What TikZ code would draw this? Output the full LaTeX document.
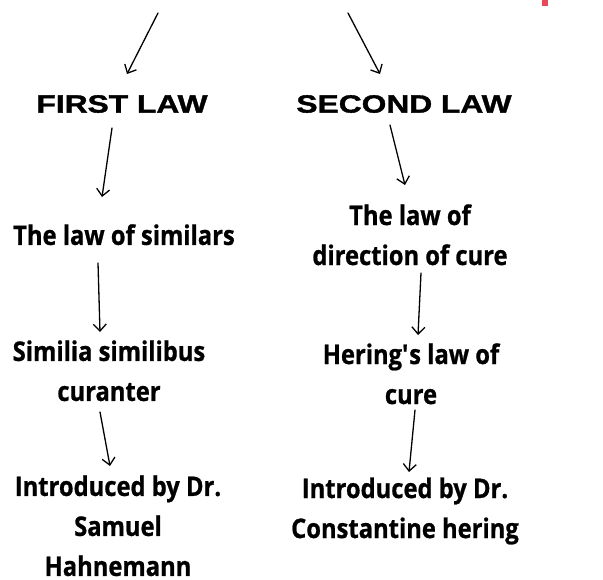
\documentclass[tikz,border=0pt]{standalone}
\usepackage{fontspec}
\setmainfont[FakeStretch=0.88,FakeBold=0.8]{Open Sans}
\newfontfamily\headfont[FakeStretch=1.27,FakeBold=1.5]{Liberation Sans}
\usepackage{tikz}
\usetikzlibrary{arrows.meta,positioning}
\usepackage{xcolor}
\definecolor{titlered}{RGB}{232,72,92}
\tikzstyle{arrow} = [line width=1.3pt,-{Straight Barb[length=7pt,width=13pt]},line cap=round,color=black]
\tikzstyle{law} = [inner sep=0pt, font=\headfont\bfseries\fontsize{25}{28}\selectfont]
\tikzstyle{point} = [inner sep=0pt, align=center, font=\bfseries\fontsize{27}{40}\selectfont]

\begin{document}
\begin{tikzpicture}[x=1pt,y=-1pt]
\useasboundingbox (0,0) rectangle (603,579);
% Cut-off title
\fill[titlered] (542,0) rectangle (548,6);
\coordinate (tl) at (158,13);
\coordinate (tr) at (348,13);

% Laws
\node (first) [law] at (122,104) {FIRST LAW};
\node (second) [law] at (404,104) {SECOND LAW};

% First law column
\node (similars) [point, below of=first, node distance=130.7pt, xshift=2pt] {The law of similars};
\node (similia) [point, below of=similars, node distance=136.1pt, xshift=-15pt] {Similia similibus\\curanter};
\node (hahnemann) [point, below of=similia, node distance=155pt, xshift=9pt] {Introduced by Dr.\\Samuel\\Hahnemann};

% Second law column
\node (direction) [point, below of=second, node distance=130.8pt, xshift=6pt] {The law of\\direction of cure};
\node (hering) [point, below of=direction, node distance=139pt, xshift=1pt] {Hering\textquotesingle s law of\\cure};
\node (constantine) [point, below of=hering, node distance=137.2pt, xshift=-6pt] {Introduced by Dr.\\Constantine hering};

% Connections
\draw[arrow] (tl) -- ([xshift=5pt,yshift=30pt]first.center);
\draw[arrow] (tr) -- ([xshift=-24pt,yshift=30pt]second.center);
\draw[arrow] ([xshift=-10pt,yshift=-24pt]first.center) -- ([xshift=-22pt,yshift=37.7pt]similars.center);
\draw[arrow] ([xshift=-26pt,yshift=-28.3pt]similars.center) -- ([xshift=-9pt,yshift=38.8pt]similia.center);
\draw[arrow] ([xshift=-9pt,yshift=-41.2pt]similia.center) -- ([xshift=-8pt,yshift=59.8pt]hahnemann.center);
\draw[arrow] ([xshift=-14pt,yshift=-21pt]second.center) -- ([xshift=-5pt,yshift=49.8pt]direction.center);
\draw[arrow] ([xshift=11pt,yshift=-38.2pt]direction.center) -- ([xshift=7pt,yshift=38.8pt]hering.center);
\draw[arrow] ([xshift=4pt,yshift=-36.2pt]hering.center) -- ([xshift=4pt,yshift=39pt]constantine.center);
\end{tikzpicture}
\end{document}
